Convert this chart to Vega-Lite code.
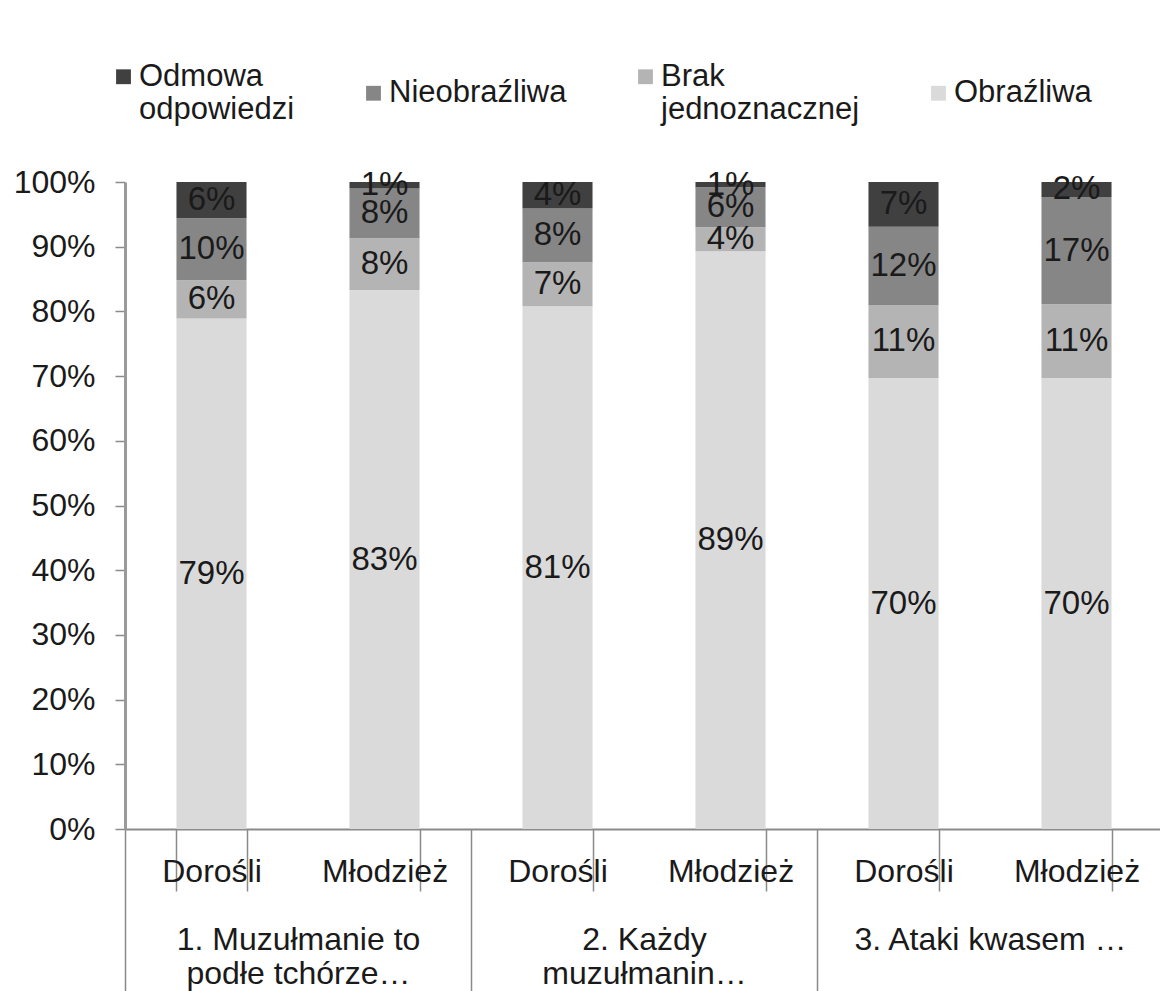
{
  "$schema": "https://vega.github.io/schema/vega-lite/v6.json",
  "autosize": {"type": "none"},
  "padding": {"left": 125, "top": 182, "right": 0, "bottom": 162},
  "width": 1038,
  "height": 647,
  "background": "white",
  "config": {
    "view": {"stroke": null},
    "font": "Liberation Sans",
    "text": {"font": "Liberation Sans"}
  },
  "data": {
    "values": [
      {"bar": "1. Dorośli", "group": "1. Muzułmanie to podłe tchórze…", "cat": "Obraźliwa", "rank": 1, "value": 0.789},
      {"bar": "1. Dorośli", "group": "1. Muzułmanie to podłe tchórze…", "cat": "Brak jednoznacznej", "rank": 2, "value": 0.059},
      {"bar": "1. Dorośli", "group": "1. Muzułmanie to podłe tchórze…", "cat": "Nieobraźliwa", "rank": 3, "value": 0.096},
      {"bar": "1. Dorośli", "group": "1. Muzułmanie to podłe tchórze…", "cat": "Odmowa odpowiedzi", "rank": 4, "value": 0.056},
      {"bar": "1. Młodzież", "group": "1. Muzułmanie to podłe tchórze…", "cat": "Obraźliwa", "rank": 1, "value": 0.833},
      {"bar": "1. Młodzież", "group": "1. Muzułmanie to podłe tchórze…", "cat": "Brak jednoznacznej", "rank": 2, "value": 0.08},
      {"bar": "1. Młodzież", "group": "1. Muzułmanie to podłe tchórze…", "cat": "Nieobraźliwa", "rank": 3, "value": 0.077},
      {"bar": "1. Młodzież", "group": "1. Muzułmanie to podłe tchórze…", "cat": "Odmowa odpowiedzi", "rank": 4, "value": 0.01},
      {"bar": "2. Dorośli", "group": "2. Każdy muzułmanin…", "cat": "Obraźliwa", "rank": 1, "value": 0.808},
      {"bar": "2. Dorośli", "group": "2. Każdy muzułmanin…", "cat": "Brak jednoznacznej", "rank": 2, "value": 0.068},
      {"bar": "2. Dorośli", "group": "2. Każdy muzułmanin…", "cat": "Nieobraźliwa", "rank": 3, "value": 0.083},
      {"bar": "2. Dorośli", "group": "2. Każdy muzułmanin…", "cat": "Odmowa odpowiedzi", "rank": 4, "value": 0.041},
      {"bar": "2. Młodzież", "group": "2. Każdy muzułmanin…", "cat": "Obraźliwa", "rank": 1, "value": 0.893},
      {"bar": "2. Młodzież", "group": "2. Każdy muzułmanin…", "cat": "Brak jednoznacznej", "rank": 2, "value": 0.037},
      {"bar": "2. Młodzież", "group": "2. Każdy muzułmanin…", "cat": "Nieobraźliwa", "rank": 3, "value": 0.062},
      {"bar": "2. Młodzież", "group": "2. Każdy muzułmanin…", "cat": "Odmowa odpowiedzi", "rank": 4, "value": 0.008},
      {"bar": "3. Dorośli", "group": "3. Ataki kwasem …", "cat": "Obraźliwa", "rank": 1, "value": 0.697},
      {"bar": "3. Dorośli", "group": "3. Ataki kwasem …", "cat": "Brak jednoznacznej", "rank": 2, "value": 0.113},
      {"bar": "3. Dorośli", "group": "3. Ataki kwasem …", "cat": "Nieobraźliwa", "rank": 3, "value": 0.121},
      {"bar": "3. Dorośli", "group": "3. Ataki kwasem …", "cat": "Odmowa odpowiedzi", "rank": 4, "value": 0.069},
      {"bar": "3. Młodzież", "group": "3. Ataki kwasem …", "cat": "Obraźliwa", "rank": 1, "value": 0.697},
      {"bar": "3. Młodzież", "group": "3. Ataki kwasem …", "cat": "Brak jednoznacznej", "rank": 2, "value": 0.114},
      {"bar": "3. Młodzież", "group": "3. Ataki kwasem …", "cat": "Nieobraźliwa", "rank": 3, "value": 0.166},
      {"bar": "3. Młodzież", "group": "3. Ataki kwasem …", "cat": "Odmowa odpowiedzi", "rank": 4, "value": 0.023}
    ]
  },
  "resolve": {"scale": {"x": "independent"}, "axis": {"x": "independent"}},
  "layer": [
    {
      "encoding": {
        "x": {
          "field": "bar", "type": "nominal", "sort": null,
          "scale": {"paddingInner": 0.595, "paddingOuter": 0.2975},
          "axis": {
            "orient": "bottom", "title": null, "labelAngle": 0,
            "labelExpr": "substring(datum.label, 3)",
            "labelFontSize": 32, "labelColor": "#1a1a1a", "labelFont": "Liberation Sans",
            "tickBand": "extent", "tickSize": 62, "tickColor": "#8a8a8a", "tickWidth": 1.5,
            "domainColor": "#8a8a8a", "domainWidth": 2,
            "labelPadding": -35, "labelBaseline": "top", "labelLimit": 300
          }
        }
      },
      "layer": [
        {
          "mark": {"type": "bar"},
          "encoding": {
            "y": {
              "field": "value", "type": "quantitative", "stack": "zero",
              "scale": {"domain": [0, 1], "nice": false},
              "axis": {
                "title": null, "format": ".0%", "values": [0, 0.1, 0.2, 0.3, 0.4, 0.5, 0.6, 0.7, 0.8, 0.9, 1],
                "grid": false, "labelFontSize": 32, "labelColor": "#1a1a1a", "labelFont": "Liberation Sans",
                "tickSize": 10, "tickColor": "#8a8a8a", "tickWidth": 1.5,
                "domainColor": "#9a9a9a", "domainWidth": 3, "labelPadding": 20
              }
            },
            "order": {"field": "rank", "type": "quantitative", "sort": "ascending"},
            "color": {
              "field": "cat", "type": "nominal",
              "scale": {
                "domain": ["Odmowa odpowiedzi", "Nieobraźliwa", "Brak jednoznacznej", "Obraźliwa"],
                "range": ["#404040", "#868686", "#b4b4b4", "#dadada"]
              },
              "legend": {
                "title": null, "orient": "none", "legendX": -17, "legendY": -121, "padding": 0,
                "direction": "horizontal", "columns": 4, "columnPadding": 63,
                "symbolType": "square", "symbolSize": 220, "symbolStrokeWidth": 0,
                "labelFontSize": 31, "labelColor": "#1a1a1a", "labelFont": "Liberation Sans",
                "labelLimit": 400, "labelOffset": 0, "labelBaseline": "top",
                "labelExpr": "datum.label == 'Odmowa odpowiedzi' ? ['Odmowa', 'odpowiedzi'] : datum.label == 'Brak jednoznacznej' ? ['Brak', 'jednoznacznej'] : datum.label",
                "encode": {"labels": {"update": {"dy": {"value": -15}}}}
              }
            }
          }
        },
        {
          "mark": {"type": "text", "fontSize": 33, "color": "#1a1a1a", "font": "Liberation Sans", "baseline": "middle"},
          "encoding": {
            "y": {"field": "value", "type": "quantitative", "stack": "zero", "bandPosition": 0.5},
            "detail": {"field": "cat"},
            "order": {"field": "rank", "type": "quantitative", "sort": "ascending"},
            "text": {"field": "value", "type": "quantitative", "format": ".0%"}
          }
        }
      ]
    },
    {
      "mark": {"type": "text", "text": ""},
      "encoding": {
        "x": {
          "field": "group", "type": "nominal", "sort": null,
          "scale": {"paddingInner": 0, "paddingOuter": 0},
          "axis": {
            "orient": "bottom", "title": null, "labelAngle": 0, "domain": false,
            "labelExpr": "datum.label == '1. Muzułmanie to podłe tchórze…' ? ['1. Muzułmanie to', 'podłe tchórze…'] : datum.label == '2. Każdy muzułmanin…' ? ['2. Każdy', 'muzułmanin…'] : datum.label",
            "labelFontSize": 32, "labelColor": "#1a1a1a", "labelFont": "Liberation Sans",
            "tickBand": "extent", "tickSize": 170, "tickColor": "#8a8a8a", "tickWidth": 1.5,
            "labelPadding": -75, "labelBaseline": "top", "labelOverlap": false, "labelBound": false, "labelFlush": false, "labelLimit": 400
          }
        }
      }
    }
  ]
}
